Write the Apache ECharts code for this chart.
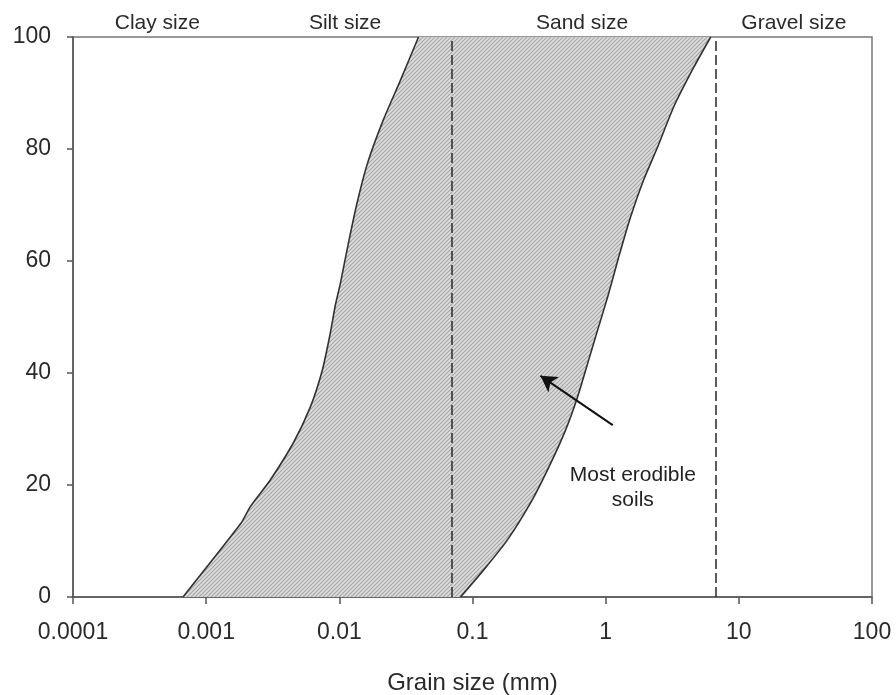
<!DOCTYPE html>
<html>
<head>
<meta charset="utf-8">
<script src="https://cdn.jsdelivr.net/npm/echarts@6/dist/echarts.min.js"></script>
<style>
  html, body { margin: 0; padding: 0; background: #fff; }
  #chart { width: 896px; height: 695px; }
</style>
</head>
<body>
<div id="chart"></div>
<script>
// tick labels of the log axis, indexed by exponent from -4
const xTickLabels = ['0.0001', '0.001', '0.01', '0.1', '1', '10', '100'];

// grading envelope of the most erodible soils: [grain size mm, % passing]
const fineLimit = [
  [0.00067, 0], [0.00183, 13.2], [0.00214, 16.1], [0.00303, 20.9], [0.00451, 27.5],
  [0.00605, 33.9], [0.00745, 40.5], [0.00855, 47.1], [0.00933, 52.1], [0.0102, 56.1],
  [0.0117, 63.2], [0.0136, 70.4], [0.0163, 77.5], [0.0214, 85.2], [0.0288, 92.3], [0.0393, 100]
];
const coarseLimit = [
  [0.0813, 0], [0.121, 4.8], [0.183, 10.2], [0.273, 16.8], [0.366, 22.7],
  [0.5, 29.8], [0.615, 35.7], [0.745, 42.3], [0.871, 47.7], [1.036, 53.6],
  [1.253, 60.7], [1.54, 67.9], [1.93, 74.5], [2.46, 80.4], [3.24, 87.5], [4.59, 94.6], [6.15, 100]
];

// size class boundaries (dashed lines) and class names
const zoneEdges = [0.0001, 0.00185, 0.066, 6.7, 100];
const zoneNames = ['Clay size', 'Silt size', 'Sand size', 'Gravel size'];

// annotation
const noteText = 'Most erodible\nsoils';
const notePos = [1.6, 19.5];
const arrowTail = [1.13, 30.7];
const arrowHead = [0.324, 39.5];

// hatch pattern for the envelope
function makeHatch() {
  const c = document.createElement('canvas');
  c.width = 4; c.height = 4;
  const ctx = c.getContext('2d');
  ctx.fillStyle = '#dedede';
  ctx.fillRect(0, 0, 4, 4);
  ctx.strokeStyle = '#a6a6a6';
  ctx.lineWidth = 1.2;
  ctx.beginPath();
  ctx.moveTo(-1, 5); ctx.lineTo(5, -1);
  ctx.moveTo(-3, 3); ctx.lineTo(3, -3);
  ctx.moveTo(1, 7); ctx.lineTo(7, 1);
  ctx.stroke();
  return c;
}
const hatch = makeHatch();

const chart = echarts.init(document.getElementById('chart'));

const zoneAreas = zoneNames.map((n, i) => [
  { name: n, xAxis: zoneEdges[i] },
  { xAxis: zoneEdges[i + 1] }
]);
const dashLines = zoneEdges.slice(1, -1).map(v => ({ xAxis: v }));

const font = 'Liberation Sans, Arial, sans-serif';

chart.setOption({
  animation: false,
  textStyle: { fontFamily: font },
  grid: {
    left: 73, right: 24, top: 37, bottom: 98,
    containLabel: false,
    outerBoundsMode: 'none',
    show: true, borderColor: '#777', borderWidth: 1.5
  },
  xAxis: {
    type: 'log',
    logBase: 10,
    min: 0.0001,
    max: 100,
    splitNumber: 6,
    name: 'Grain size (mm)',
    nameLocation: 'middle',
    nameGap: 74,
    nameTextStyle: { fontSize: 24, color: '#2a2a2a', fontFamily: font },
    axisLine: { lineStyle: { color: '#555', width: 1.5 } },
    axisTick: { length: 7, lineStyle: { color: '#555', width: 1.5 } },
    minorTick: { show: false },
    splitLine: { show: false },
    axisLabel: {
      fontSize: 23, color: '#2a2a2a', margin: 24, fontFamily: font,
      showMinLabel: true, showMaxLabel: true,
      formatter: v => xTickLabels[Math.round(Math.log10(v)) + 4]
    }
  },
  yAxis: {
    type: 'value',
    min: 0, max: 100, interval: 20,
    axisLine: { show: true, lineStyle: { color: '#555', width: 1.5 } },
    axisTick: { show: true, length: 6, lineStyle: { color: '#555', width: 1.5 } },
    splitLine: { show: false },
    axisLabel: { fontSize: 23, color: '#2a2a2a', margin: 22, fontFamily: font }
  },
  series: [
    {
      type: 'custom',
      z: 1,
      clip: true,
      data: [[0.01, 50]],
      encode: { x: 0, y: 1 },
      silent: true,
      renderItem: (params, api) => {
        const pts = fineLimit.map(p => api.coord(p))
          .concat(coarseLimit.slice().reverse().map(p => api.coord(p)));
        return {
          type: 'polygon',
          shape: { points: pts },
          style: { fill: { image: hatch, repeat: 'repeat' }, stroke: null }
        };
      }
    },
    {
      type: 'line',
      z: 3,
      data: fineLimit,
      smooth: 0.2,
      showSymbol: false,
      lineStyle: { color: '#333', width: 1.6 },
      markLine: {
        silent: true,
        symbol: 'none',
        label: { show: false },
        lineStyle: { color: '#333', width: 1.6, type: [10, 4] },
        data: dashLines
      },
      markArea: {
        silent: true,
        itemStyle: { color: 'transparent' },
        label: {
          show: true, position: 'top', distance: 3,
          fontSize: 21, color: '#2a2a2a', fontFamily: font
        },
        data: zoneAreas
      }
    },
    {
      type: 'line',
      z: 3,
      data: coarseLimit,
      smooth: 0.2,
      showSymbol: false,
      lineStyle: { color: '#333', width: 1.6 },
      markLine: {
        silent: true,
        symbol: ['none', 'arrow'],
        symbolSize: [14, 16],
        label: { show: false },
        lineStyle: { color: '#111', width: 2, type: 'solid' },
        data: [[{ coord: arrowTail }, { coord: arrowHead }]]
      }
    },
    {
      type: 'scatter',
      z: 4,
      data: [notePos],
      symbolSize: 0,
      silent: true,
      itemStyle: { opacity: 1 },
      label: {
        show: true, position: 'inside', formatter: noteText,
        fontSize: 21, lineHeight: 25, color: '#222', align: 'center', fontFamily: font
      }
    }
  ]
});
</script>
</body>
</html>
